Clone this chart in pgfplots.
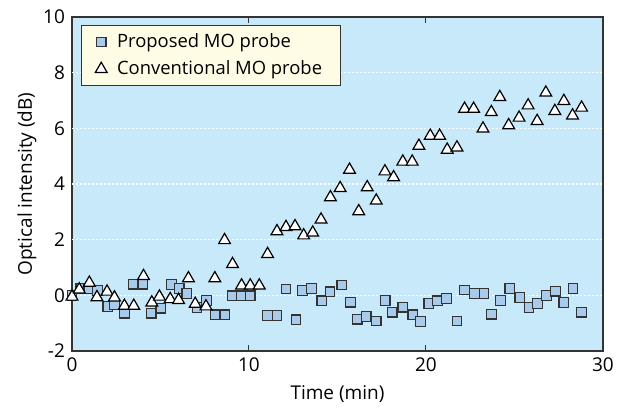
\documentclass[border=0pt]{standalone}
\usepackage{fontspec}
\setmainfont{Open Sans}
\usepackage{pgfplots}
\pgfplotsset{compat=1.18}

\definecolor{bgblue}{HTML}{C7E9F9}
\definecolor{sqblue}{HTML}{A8CBEC}
\definecolor{legfill}{HTML}{FFFCE6}
\definecolor{frame}{HTML}{333333}

\begin{document}
\begin{tikzpicture}
\path[use as bounding box] (-36pt,-29.5pt) rectangle (278.5pt,175.5pt);
\begin{axis}[
    scale only axis,
    width=265.5pt, height=167pt,
    xmin=0, xmax=30, ymin=-2, ymax=10,
    xtick={0,10,20,30},
    ytick={-2,0,...,10},
    extra y ticks={0,2,4,6,8},
    extra y tick labels={},
    extra y tick style={grid=major, tick style={draw=none}},
    grid style={white, dash pattern=on 1pt off 1pt, line width=0.6pt},
    axis background/.style={fill=bgblue},
    axis line style={draw=frame, line width=0.6pt},
    tick align=inside,
    major tick length=3pt,
    xtick style={draw=frame, line width=0.5pt},
    ytick style={draw=none},
    /pgf/number format/assume math mode=true,
    tick label style={font=\fontsize{9.5}{11}\selectfont},
    label style={font=\fontsize{9.5}{11}\selectfont},
    xlabel={Time (min)},
    ylabel={Optical intensity (dB)},
    xlabel style={at={(axis description cs:0.5,-0.13)}, anchor=center},
    ylabel style={at={(axis description cs:-0.085,0.5)}, anchor=center},
    legend style={at={(axis cs:0.5,9.71)}, anchor=north west,
        draw=frame, line width=0.5pt, fill=legfill,
        font=\fontsize{9.2}{11}\selectfont,
        inner xsep=7pt, inner ysep=2pt, row sep=1pt,
        /tikz/every odd column/.append style={column sep=3pt}},
    legend cell align=left,
]
\addplot[only marks, mark=square*, mark size=2.4pt,
    mark options={fill=sqblue, draw=frame, line width=0.6pt}] coordinates {
    (0,0) (0.5,0.25) (0.95,0.25) (1.45,0.17) (2.02,-0.4) (2.4,-0.35)
    (2.96,-0.64) (3.45,0.4) (4.0,0.4) (4.47,-0.64) (5.02,-0.46)
    (5.62,0.39) (6.06,0.25) (6.49,0.07) (7.06,-0.44) (7.6,-0.19)
    (8.09,-0.7) (8.64,-0.7) (9.07,-0.02) (9.55,-0.02) (10.07,-0.02)
    (11.05,-0.73) (11.58,-0.73) (12.09,0.23) (12.66,-0.88) (13.03,0.17)
    (13.54,0.25) (14.11,-0.2) (14.58,0.13) (15.24,0.37) (15.73,-0.25)
    (16.11,-0.86) (16.62,-0.76) (17.19,-0.92) (17.69,-0.19) (18.09,-0.61)
    (18.69,-0.43) (19.26,-0.7) (19.68,-0.94) (20.16,-0.29) (20.64,-0.2)
    (21.15,-0.11) (21.75,-0.92) (22.18,0.19) (22.75,0.07) (23.28,0.07)
    (23.69,-0.68) (24.2,-0.19) (24.73,0.25) (25.3,-0.08) (25.82,-0.44)
    (26.3,-0.29) (26.8,-0.01) (27.32,0.15) (27.79,-0.26) (28.31,0.25)
    (28.79,-0.61)
};
\addlegendentry{Proposed MO probe}
\addplot[only marks, mark=triangle*, mark size=3.4pt,
    mark options={fill=white, draw=black, line width=0.6pt}] coordinates {
    (0,-0.05) (0.41,0.21) (0.98,0.45) (1.41,-0.07) (1.98,0.13) (2.4,-0.08)
    (2.96,-0.38) (3.49,-0.38) (4.04,0.69) (4.51,-0.26) (4.94,-0.05)
    (5.55,-0.14) (6.02,-0.17) (6.58,0.61) (6.96,-0.31) (7.57,-0.4)
    (8.07,0.61) (8.62,1.98) (9.07,1.12) (9.58,0.35) (10.07,0.35)
    (10.58,0.35) (11.05,1.48) (11.58,2.3) (12.09,2.45) (12.6,2.48)
    (13.09,2.15) (13.6,2.25) (14.07,2.72) (14.6,3.52) (15.15,3.85)
    (15.68,4.51) (16.2,3.02) (16.68,3.88) (17.19,3.4) (17.68,4.45)
    (18.17,4.24) (18.69,4.8) (19.22,4.8) (19.6,5.37) (20.24,5.73)
    (20.77,5.73) (21.2,5.23) (21.75,5.31) (22.18,6.7) (22.69,6.7)
    (23.22,5.99) (23.69,6.58) (24.17,7.12) (24.67,6.11) (25.26,6.38)
    (25.77,6.82) (26.28,6.26) (26.77,7.28) (27.28,6.62) (27.79,6.98)
    (28.28,6.46) (28.79,6.74)
};
\addlegendentry{Conventional MO probe}
\end{axis}
\end{tikzpicture}
\end{document}
